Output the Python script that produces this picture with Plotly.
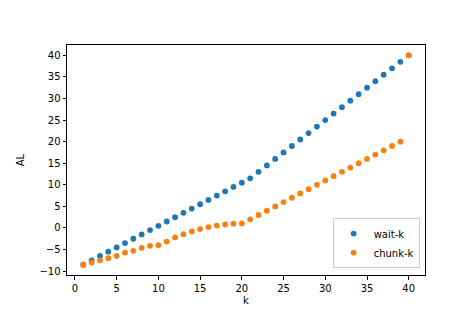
import plotly.graph_objects as go

k = list(range(1, 41))
wait_k = [-8.5, -7.5, -6.5, -5.5, -4.5, -3.5, -2.5, -1.5, -0.5, 0.5,
          1.5, 2.5, 3.5, 4.5, 5.5, 6.5, 7.5, 8.5, 9.5, 10.5,
          11.5, 13.0, 14.5, 16.0, 17.5, 19.0, 20.5, 22.0, 23.5, 25.0,
          26.5, 28.0, 29.5, 31.0, 32.5, 34.0, 35.5, 37.0, 38.5, 40.0]
chunk_k = [-8.5, -8.0, -7.5, -7.0, -6.5, -5.7, -5.3, -4.6, -4.15, -4.0,
           -3.15, -2.2, -1.45, -0.8, -0.25, 0.2, 0.55, 0.8, 1.0, 1.05,
           2.0, 3.0, 4.0, 5.0, 6.0, 7.0, 8.0, 9.0, 10.0, 11.0,
           12.0, 13.0, 14.0, 15.0, 16.0, 17.0, 18.0, 19.0, 20.0, 40.0]
x_ticks = [0, 5, 10, 15, 20, 25, 30, 35, 40]
y_ticks = [-10, -5, 0, 5, 10, 15, 20, 25, 30, 35, 40]

fig = go.Figure()
fig.add_trace(go.Scatter(x=k, y=wait_k, mode="markers", name="wait-k",
                         marker=dict(color="#1f77b4", size=5.8, line=dict(width=0))))
fig.add_trace(go.Scatter(x=k, y=chunk_k, mode="markers", name="chunk-k",
                         marker=dict(color="#ff7f0e", size=5.8, line=dict(width=0))))

axis_common = dict(showline=True, linecolor="black", linewidth=1, mirror=True,
                   ticks="outside", ticklen=3.5, tickwidth=0.8, tickcolor="black",
                   showgrid=False, zeroline=False,
                   tickfont=dict(family="DejaVu Sans", size=10, color="black"))

fig.update_layout(
    width=463, height=309,
    margin=dict(l=58, r=46, t=37, b=37),
    paper_bgcolor="white", plot_bgcolor="white",
    font=dict(family="DejaVu Sans", size=10, color="black"),
    xaxis=dict(range=[-0.95, 41.95], tickvals=x_ticks,
               title=dict(text="k", font=dict(size=10), standoff=4), **axis_common),
    yaxis=dict(range=[-10.9, 42.4], tickvals=y_ticks,
               title=dict(text="AL", font=dict(size=10), standoff=12), **axis_common),
    legend=dict(x=0.985, y=0.03, xanchor="right", yanchor="bottom",
                bgcolor="rgba(255,255,255,0.8)", bordercolor="#cccccc", borderwidth=1,
                font=dict(size=10), itemwidth=30, tracegroupgap=0),
    showlegend=True,
)

fig.write_html("out.html")
